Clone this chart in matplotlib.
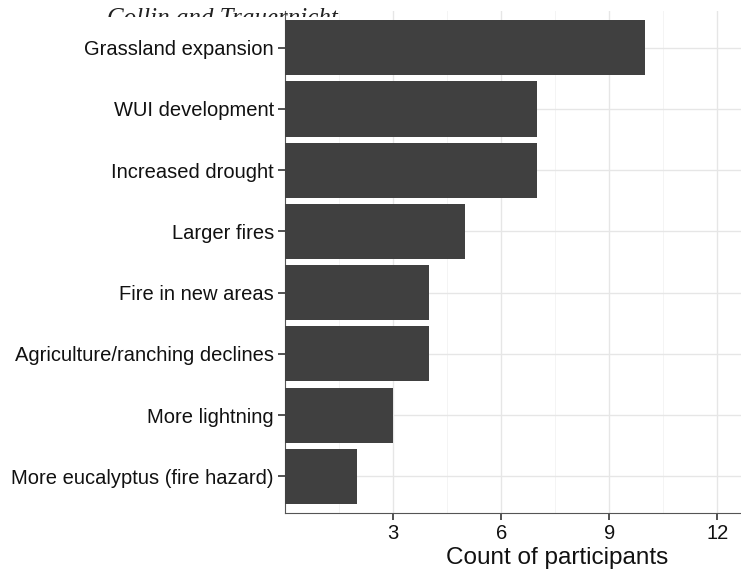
import matplotlib.pyplot as plt
from matplotlib.transforms import Bbox, TransformedBbox

categories = ['Grassland expansion', 'WUI development', 'Increased drought', 'Larger fires',
              'Fire in new areas', 'Agriculture/ranching declines', 'More lightning',
              'More eucalyptus (fire hazard)']
counts = [10, 7, 7, 5, 4, 4, 3, 2]

plt.rcParams['font.family'] = ['Liberation Sans', 'DejaVu Sans']

fig = plt.figure(figsize=(7.41, 5.73), dpi=100)
W, H = 741, 573

# header fragment, only the top part shows
hdr = fig.text(222 / W, 1 - 25 / H, 'Collin and Trauernicht', family='Liberation Serif',
               style='italic', fontsize=18, ha='center', va='baseline', color='#222222')
hdr.set_clip_box(TransformedBbox(Bbox([[0, 1 - 17 / H], [1, 1]]), fig.transFigure))
hdr.set_clip_on(True)

left, right, top, bottom = 285, 829, 11, 513
ax = fig.add_axes([left / W, 1 - bottom / H, (right - left) / W, (bottom - top) / H])
ax.set_facecolor('white')

ypos = list(range(len(categories), 0, -1))
ax.barh(ypos, counts, height=0.9, color='#404040', zorder=3)

ax.set_xlim(0, 15.1)
ax.set_ylim(0.4, len(categories) + 0.6)
ax.set_yticks(ypos)
ax.set_yticklabels(categories)
ax.set_xticks([3, 6, 9, 12])
ax.set_xticks([1.5, 4.5, 7.5, 10.5, 13.5], minor=True)

ax.grid(True, which='major', color='#e6e6e6', linewidth=1.0, zorder=0)
ax.grid(True, which='minor', axis='x', color='#f2f2f2', linewidth=0.6, zorder=0)
ax.tick_params(which='minor', length=0)
ax.tick_params(which='major', length=5, width=1.2, color='#333333', labelsize=14.5,
               labelcolor='#111111', pad=3)

for s in ['top', 'right']:
    ax.spines[s].set_visible(False)
for s in ['left', 'bottom']:
    ax.spines[s].set_color('#555555')
    ax.spines[s].set_linewidth(0.8)

ax.set_xlabel('Count of participants', fontsize=17.5, color='#111111', labelpad=3)

fig.savefig('out.png', dpi=100)
